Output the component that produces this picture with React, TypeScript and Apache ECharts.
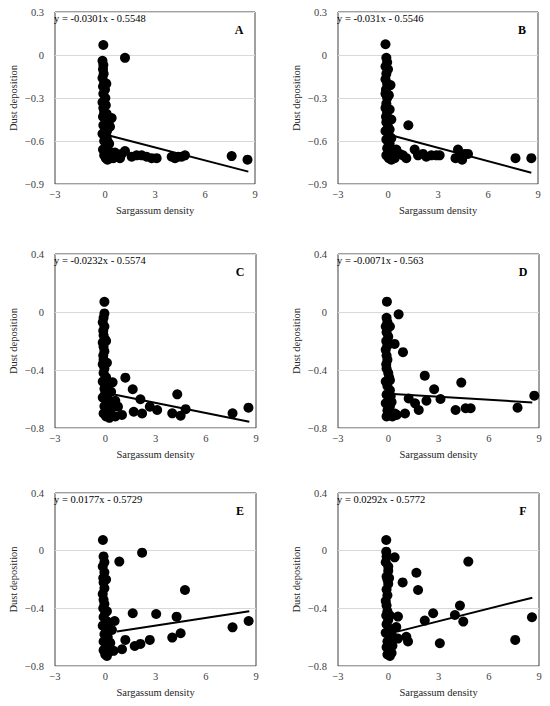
import React, { useEffect, useRef } from "react";
import * as echarts from "echarts";

// ---------- data ----------
const panelLetters = ["A", "B", "C", "D", "E", "F"];
const equationLabels = [
  "y = -0.0301x - 0.5548",
  "y = -0.031x - 0.5546",
  "y = -0.0232x - 0.5574",
  "y = -0.0071x - 0.563",
  "y = 0.0177x - 0.5729",
  "y = 0.0292x - 0.5772",
];
const slopes = [-0.0301, -0.031, -0.0232, -0.0071, 0.0177, 0.0292];
const intercepts = [-0.5548, -0.5546, -0.5574, -0.563, -0.5729, -0.5772];
const trendStartX = [0.3, 0.3, 0.3, 0.3, 0.7, 0.3];
const trendEndX = [8.6, 8.6, 8.6, 8.6, 8.6, 8.6];

const xTickValues = [-3, 0, 3, 6, 9];
const yTickValuesTop = [-0.9, -0.6, -0.3, 0, 0.3];
const yTickValuesLower = [-0.8, -0.4, 0, 0.4];

const xAxisName = "Sargassum density";
const yAxisName = "Dust deposition";

const pointsA = [
  [-0.1, 0.07], [1.2, -0.02],
  [-0.15, -0.04], [-0.1, -0.07], [-0.12, -0.1], [-0.08, -0.13], [-0.15, -0.16], [-0.05, -0.19],
  [-0.12, -0.22], [0.0, -0.24], [-0.1, -0.27], [0.02, -0.3], [-0.15, -0.33], [-0.1, -0.37],
  [-0.05, -0.4], [-0.12, -0.43], [0.05, -0.46], [-0.1, -0.49], [0.0, -0.52], [-0.15, -0.55],
  [0.1, -0.57], [-0.05, -0.6], [0.05, -0.63], [-0.12, -0.66], [0.1, -0.68], [-0.05, -0.7],
  [0.05, -0.72], [0.2, -0.7], [0.35, -0.72], [0.25, -0.62], [0.4, -0.68],
  [0.05, -0.35], [0.08, -0.2], [0.1, -0.41], [0.12, -0.53], [0.15, -0.6], [0.15, -0.73],
  [0.5, -0.72], [0.6, -0.68], [0.9, -0.72],
  [0.4, -0.44], [0.3, -0.5], [0.6, -0.7], [0.8, -0.71], [1.0, -0.69], [1.2, -0.67],
  [1.6, -0.71], [1.9, -0.7], [2.2, -0.7], [2.5, -0.71], [2.8, -0.72], [3.1, -0.72],
  [4.0, -0.71], [4.2, -0.72], [4.4, -0.71], [4.6, -0.71], [4.8, -0.7],
  [7.6, -0.705], [8.55, -0.73],
];

const pointsB = [
  [-0.15, 0.075],
  [-0.1, -0.02], [-0.05, -0.05], [-0.15, -0.08], [0.0, -0.1], [-0.1, -0.13], [-0.15, -0.17],
  [-0.05, -0.2], [0.15, -0.21], [-0.12, -0.24], [-0.15, -0.27], [-0.05, -0.3], [-0.1, -0.34],
  [-0.15, -0.37], [-0.05, -0.4], [-0.12, -0.43], [0.2, -0.45], [-0.1, -0.47], [0.0, -0.5],
  [-0.15, -0.53], [0.05, -0.56], [-0.1, -0.59], [0.1, -0.62], [-0.05, -0.65], [0.15, -0.67],
  [-0.1, -0.7], [0.05, -0.72], [0.3, -0.7], [0.5, -0.66], [0.7, -0.69], [0.9, -0.7],
  [0.05, -0.28], [0.1, -0.38], [0.1, -0.52], [0.2, -0.58], [0.2, -0.73], [0.4, -0.72],
  [1.1, -0.72], [1.22, -0.49], [1.6, -0.66], [1.8, -0.7], [2.1, -0.69], [2.3, -0.71],
  [2.6, -0.7], [2.9, -0.7], [3.1, -0.7], [4.05, -0.72], [4.2, -0.66], [4.3, -0.7],
  [4.45, -0.73], [4.6, -0.69], [4.8, -0.69], [7.65, -0.72], [8.6, -0.72],
];

const pointsC = [
  [-0.05, 0.07],
  [-0.05, -0.01], [-0.1, -0.04], [-0.15, -0.07], [-0.05, -0.1], [-0.12, -0.13], [-0.1, -0.16],
  [0.0, -0.19], [-0.15, -0.21], [-0.1, -0.24], [-0.05, -0.27], [-0.12, -0.3], [-0.1, -0.33],
  [-0.15, -0.36], [-0.05, -0.39], [-0.1, -0.42], [0.05, -0.45], [-0.15, -0.48], [0.1, -0.5],
  [-0.05, -0.53], [0.0, -0.56], [-0.15, -0.59], [0.1, -0.62], [-0.05, -0.65], [0.15, -0.67],
  [-0.1, -0.7], [0.05, -0.72], [0.3, -0.7], [0.35, -0.55],
  [0.05, -0.2], [0.1, -0.35], [0.12, -0.58], [0.2, -0.64], [0.25, -0.73], [0.4, -0.66],
  [0.44, -0.485], [1.2, -0.453], [1.64, -0.533], [2.1, -0.602], [4.3, -0.568], [0.6, -0.612],
  [0.76, -0.653], [1.0, -0.71], [1.7, -0.688], [2.2, -0.7], [2.66, -0.653], [3.1, -0.676],
  [4.0, -0.699], [4.5, -0.715], [4.8, -0.67], [7.6, -0.699], [8.55, -0.66], [0.6, -0.72],
];

const pointsD = [
  [-0.08, 0.071], [0.62, -0.016], [0.38, -0.22], [0.88, -0.277],
  [-0.1, -0.04], [-0.05, -0.07], [-0.15, -0.1], [-0.1, -0.14], [0.0, -0.17], [-0.12, -0.2],
  [-0.05, -0.23], [-0.15, -0.26], [-0.1, -0.3], [-0.05, -0.33], [-0.12, -0.36], [-0.1, -0.39],
  [0.0, -0.42], [0.05, -0.45], [-0.15, -0.48], [-0.05, -0.51], [0.1, -0.54], [-0.1, -0.57],
  [0.05, -0.6], [-0.15, -0.63], [0.1, -0.65], [-0.05, -0.68], [0.15, -0.7], [-0.1, -0.72],
  [0.4, -0.7], [0.5, -0.71],
  [0.05, -0.22], [0.1, -0.47], [0.15, -0.58], [0.2, -0.62], [0.25, -0.72], [0.1, -0.1],
  [2.18, -0.439], [4.36, -0.487], [2.74, -0.533], [1.22, -0.596], [2.28, -0.612], [3.12, -0.6],
  [1.82, -0.676], [1.6, -0.63], [4.02, -0.676], [4.62, -0.664], [4.92, -0.664], [7.72, -0.66],
  [8.72, -0.577], [1.0, -0.7],
];

const pointsE = [
  [-0.14, 0.074], [0.84, -0.076], [2.2, -0.014], [4.76, -0.273], [1.64, -0.434], [3.04, -0.439],
  [4.26, -0.458], [0.56, -0.488], [7.6, -0.532], [8.56, -0.488], [4.5, -0.573], [4.0, -0.603],
  [2.66, -0.619], [2.1, -0.647], [1.76, -0.661], [1.2, -0.619], [1.0, -0.684], [0.5, -0.695],
  [0.4, -0.55],
  [-0.1, -0.04], [-0.05, -0.08], [-0.15, -0.11], [-0.05, -0.15], [-0.12, -0.19], [-0.1, -0.22],
  [-0.05, -0.26], [-0.15, -0.3], [-0.1, -0.34], [-0.05, -0.37], [-0.12, -0.4], [0.0, -0.43],
  [-0.1, -0.46], [0.1, -0.49], [-0.15, -0.52], [0.05, -0.55], [-0.05, -0.58], [0.15, -0.6],
  [-0.1, -0.63], [0.05, -0.66], [0.2, -0.67], [-0.1, -0.69], [0.0, -0.72], [0.3, -0.64],
  [0.05, -0.2], [0.1, -0.42], [0.15, -0.53], [0.25, -0.7], [0.1, -0.73],
];

const pointsF = [
  [-0.12, 0.074], [-0.12, -0.007], [0.38, -0.046], [4.78, -0.076], [0.0, -0.11], [1.68, -0.153],
  [0.86, -0.22], [1.78, -0.273], [4.28, -0.381], [3.98, -0.446], [2.68, -0.434], [0.58, -0.457],
  [2.18, -0.485], [4.48, -0.492], [8.58, -0.462], [7.58, -0.619], [3.08, -0.642], [1.18, -0.63],
  [1.08, -0.597], [0.58, -0.61], [0.48, -0.53],
  [-0.1, -0.04], [-0.15, -0.08], [0.0, -0.14], [-0.1, -0.18], [-0.05, -0.2], [0.0, -0.23],
  [-0.1, -0.27], [-0.05, -0.31], [-0.15, -0.35], [-0.1, -0.38], [-0.05, -0.42], [-0.12, -0.45],
  [0.0, -0.48], [-0.1, -0.51], [0.05, -0.54], [-0.15, -0.57], [0.1, -0.6], [-0.05, -0.63],
  [0.15, -0.65], [-0.1, -0.67], [0.05, -0.69], [-0.05, -0.72], [0.2, -0.71], [0.3, -0.6],
  [0.05, -0.19], [0.1, -0.45], [0.15, -0.56], [0.25, -0.66], [0.1, -0.73],
];

const panelPoints = [pointsA, pointsB, pointsC, pointsD, pointsE, pointsF];
const panelYTicks = [yTickValuesTop, yTickValuesTop, yTickValuesLower, yTickValuesLower, yTickValuesLower, yTickValuesLower];

// ---------- layout ----------
const gridBoxes = [
  { left: 55, top: 12, width: 200, height: 172 },
  { left: 338, top: 12, width: 200, height: 172 },
  { left: 55, top: 254, width: 201, height: 174 },
  { left: 338, top: 254, width: 201, height: 174 },
  { left: 55, top: 493, width: 201, height: 173 },
  { left: 338, top: 493, width: 201, height: 173 },
];

const FONT = "'Liberation Serif', 'Times New Roman', serif";
const TICK_COLOR = "#404040";
const TEXT_COLOR = "#262626";

function fmt(v: number) {
  const r = Math.round(v * 100) / 100;
  const s = String(r);
  return s.replace("-", "\u2212");
}

export default function App() {
  const ref = useRef<HTMLDivElement>(null);

  useEffect(() => {
    if (!ref.current) return;
    const chart = echarts.init(ref.current, undefined, { renderer: "svg" });

    const grid = gridBoxes.map((g) => ({
      ...g,
      show: true,
      borderColor: "#404040",
      borderWidth: 1,
      backgroundColor: "#ffffff",
    }));

    const xAxis = gridBoxes.map((_, i) => ({
      type: "value",
      gridIndex: i,
      min: xTickValues[0],
      max: xTickValues[xTickValues.length - 1],
      interval: xTickValues[1] - xTickValues[0],
      name: xAxisName,
      nameLocation: "middle",
      nameGap: 21,
      nameTextStyle: { fontFamily: FONT, fontSize: 10.5, color: TEXT_COLOR },
      axisLine: { show: false },
      axisTick: { show: false },
      splitLine: { show: false },
      axisLabel: { fontFamily: FONT, fontSize: 10.5, color: TICK_COLOR, margin: 5, formatter: fmt },
    }));

    const yAxis = gridBoxes.map((_, i) => {
      const t = panelYTicks[i];
      return {
        type: "value",
        gridIndex: i,
        min: t[0],
        max: t[t.length - 1],
        interval: t[1] - t[0],
        name: yAxisName,
        nameLocation: "middle",
        nameGap: 36,
        nameRotate: 90,
        nameTextStyle: { fontFamily: FONT, fontSize: 10.5, color: TEXT_COLOR },
        axisLine: { show: false },
        axisTick: { show: false },
        splitLine: { show: true, lineStyle: { color: "#d9d9d9", width: 1 } },
        axisLabel: { fontFamily: FONT, fontSize: 10.5, color: TICK_COLOR, margin: 11, formatter: fmt },
      };
    });

    const series: any[] = [];
    panelPoints.forEach((pts, i) => {
      series.push({
        type: "scatter",
        xAxisIndex: i,
        yAxisIndex: i,
        data: pts,
        symbolSize: 10,
        itemStyle: { color: "#000000", opacity: 1 },
        z: 2,
      });
      const x0 = trendStartX[i];
      const x1 = trendEndX[i];
      series.push({
        type: "line",
        xAxisIndex: i,
        yAxisIndex: i,
        data: [
          [x0, slopes[i] * x0 + intercepts[i]],
          [x1, slopes[i] * x1 + intercepts[i]],
        ],
        showSymbol: false,
        symbol: "none",
        lineStyle: { color: "#000000", width: 2 },
        z: 3,
      });
    });

    const graphic: any[] = [];
    gridBoxes.forEach((g, i) => {
      graphic.push({
        type: "text",
        left: g.left - 1,
        top: g.top + 1,
        z: 10,
        style: {
          text: equationLabels[i],
          fontFamily: FONT,
          fontSize: 10.5,
          fill: "#000000",
        },
      });
      graphic.push({
        type: "text",
        x: g.left + g.width - 16,
        y: g.top + 18,
        z: 10,
        style: {
          text: panelLetters[i],
          fontFamily: FONT,
          fontSize: 12,
          fontWeight: "bold",
          fill: "#000000",
          align: "center",
          verticalAlign: "middle",
        },
      });
    });

    chart.setOption({
      animation: false,
      backgroundColor: "#ffffff",
      grid,
      xAxis,
      yAxis,
      series,
      graphic,
    });

    return () => chart.dispose();
  }, []);

  return (
    <div
      ref={ref}
      style={{ position: "absolute", left: 0, top: 0, width: 550, height: 706 }}
    />
  );
}
